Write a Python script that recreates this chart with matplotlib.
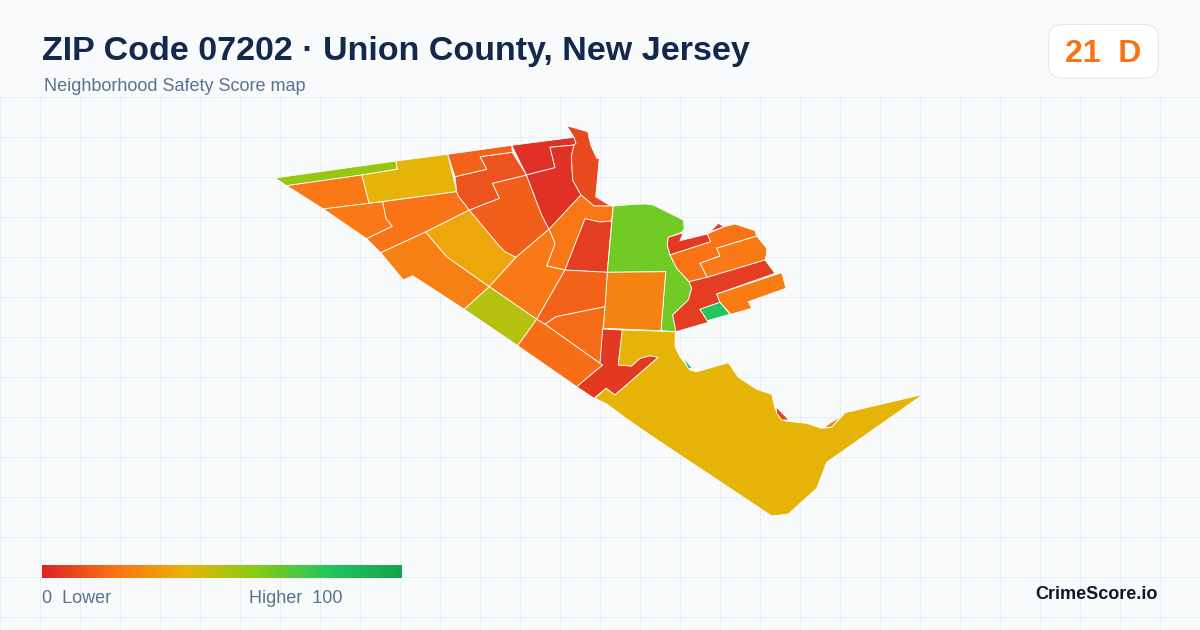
"""ZIP 07202 neighborhood safety score map, tract shapes traced in image pixels."""
import numpy as np
import matplotlib
matplotlib.use("Agg")
import matplotlib.pyplot as plt
from matplotlib.colors import LinearSegmentedColormap
from matplotlib.patches import FancyBboxPatch

BG = "#f8fafc"
GRID = "#e6eff3"
NAVY = "#13294b"
SLATE = "#5b7190"
ORANGE = "#f97316"

# score ramp as shown in the legend
RAMP_STOPS = [0.0, 0.2, 0.4, 0.6, 0.8, 1.0]
RAMP_COLORS = ["#dc2626", "#f97316", "#eab308", "#84cc16", "#22c55e", "#16a34a"]

# tract outlines, (x, y) in image pixels
north_strip = [(275, 178), (396, 161), (397.3, 169.3), (361.7, 175), (286.7, 185.7)]
north_yellow = [(396, 161), (447.7, 154.3), (456.7, 191.7), (369, 203.3), (361.7, 175), (397.3, 169.3)]
west_a = [(286.7, 185.7), (361.7, 175), (369, 203.3), (323.3, 209)]
west_b = [(323.3, 209), (369, 203.3), (382.7, 201.7), (386, 218.3), (392.3, 226.3), (366.7, 238.7)]
west_c = [(382.7, 201.7), (456.7, 191.7), (458.3, 196), (469.3, 210), (425.7, 232), (380.7, 252.7),
          (366.7, 238.7), (392.3, 226.3), (386, 218.3)]
west_d = [(380.7, 252.7), (425.7, 232), (446.7, 256.7), (489.3, 286.7), (464.3, 309.3), (412.7, 275.7),
          (403.3, 280)]
mid_yellow = [(425.7, 232), (469.3, 210), (500, 246.7), (505, 251.7), (516, 257.3), (489.3, 286.7), (446.7, 256.7)]
mid_north = [(469.3, 210), (499.3, 198.3), (492.3, 183.3), (526.4, 175), (541.7, 215), (549, 229.3), (516, 257.3),
             (505, 251.7), (500, 246.7)]
north_e = [(455, 176.7), (486.7, 169.3), (480, 156.7), (512.3, 152.3), (526.4, 175), (492.3, 183.3),
           (499.3, 198.3), (469.3, 210), (458.3, 196), (456.7, 191.7)]
north_f = [(447.7, 154.3), (511.7, 145.3), (512.3, 152.3), (480, 156.7), (486.7, 169.3), (455, 176.7)]
red_top = [(511.7, 145.3), (574, 137.3), (576, 143.3), (574, 145), (550, 147.3), (555, 167.7), (526.4, 175)]
red_lower = [(526.4, 175), (555, 167.7), (550, 147.3), (574, 145), (571.3, 156.7), (572.7, 180), (581, 195),
             (549, 229.3), (541.7, 215)]
north_lobe = [(566.7, 125.7), (587.7, 131.7), (590.7, 145), (596.7, 158.3), (599.3, 158.3), (595.7, 196.7),
              (610.7, 206), (594, 206), (581, 195), (572.7, 180), (571.3, 156.7), (574, 145), (576, 143.3),
              (574, 137.3)]
center_orange = [(581, 195), (594, 206), (613.3, 206), (611.7, 221), (600, 222), (585, 218.7), (565, 270),
                 (546.7, 266), (555, 243.3), (549, 229.3)]
center_red = [(585, 218.7), (600, 222), (611.7, 221), (607.3, 272.3), (565, 270)]
park_green = [(613.3, 206), (635, 204.3), (645, 204), (653.3, 205), (666.7, 211.7), (683.3, 220), (684.3, 228.3),
              (681.7, 232.3), (668.3, 237.3), (667.3, 245), (670, 255), (676.7, 268.3), (689, 281.7),
              (691.7, 288.3), (688.3, 300), (672.7, 315), (676, 331.7), (661, 330.7), (665.7, 271.7),
              (607.3, 272.3)]
square_orange = [(607.3, 272.3), (665.7, 271.7), (661, 330.7), (603.3, 328.3)]
wedge_orange = [(549, 229.3), (555, 243.3), (546.7, 266), (565, 270), (536.7, 319.3), (489.3, 286.7), (516, 257.3)]
lime_block = [(489.3, 286.7), (536.7, 319.3), (517.7, 345.7), (464.3, 309.3)]
south_a = [(565, 270), (607.3, 272.3), (605, 306.7), (556, 316.7), (545, 324.3), (536.7, 319.3)]
south_b = [(545, 324.3), (556, 316.7), (605, 306.7), (600, 363.3)]
south_c = [(536.7, 319.3), (545, 324.3), (600, 363.3), (602.7, 365), (576.7, 386.7), (517.7, 345.7)]
red_y = [(602.7, 329), (622.3, 330), (618.3, 365), (631.7, 366), (636, 362), (640, 358.3), (650, 355.7), (658.3, 357.3),
         (615, 395), (606, 388.3), (594, 398.3), (576.7, 386.7), (602.7, 365), (600, 363.3)]
port_yellow = [(622.3, 330), (675.3, 331.7), (675, 346.7), (680, 356.7), (690, 370), (696.7, 371.7),
               (728.3, 362.7), (738.3, 377.3), (756.7, 389.3), (771.7, 394.3), (775, 408.3), (780, 418.3),
               (785, 421), (806.7, 423.3), (821.7, 428.3), (831.7, 427.3), (845, 412.7), (923.3, 394.3),
               (826.7, 462.3), (816.7, 488.3), (788.3, 514), (771.7, 516), (660, 441.7), (628.3, 420),
               (606.7, 404), (595, 398.3), (606, 388.3), (615, 395), (658.3, 357.3), (650, 355.7), (640, 358.3),
               (636, 362), (631.7, 366), (618.3, 365)]
sliver_green = [(682.7, 356.7), (693.3, 369.3), (688, 368)]
sliver_red = [(776, 406.7), (789, 420), (781.7, 420), (776.7, 413)]
sliver_orange = [(841.7, 416), (831.7, 427), (824, 427.7), (830, 423)]
east_red_top = [(668.3, 237.3), (683.3, 232.7), (680, 240.7), (707.3, 234), (710.7, 241.7), (670, 255), (667.3, 245)]
east_red_small = [(710, 231.7), (718.3, 223.3), (724, 226.7)]
east_a = [(707.3, 234), (724, 226.7), (735, 224), (755, 230.7), (756.7, 236), (716.7, 248.3), (720, 256),
          (700, 263.3), (707.3, 277.3), (689, 281.7), (676.7, 268.3), (670, 255), (710.7, 241.7)]
east_b = [(756.7, 236), (766.7, 248.3), (766.7, 254), (765, 260), (707.3, 277.3), (700, 263.3), (720, 256),
          (716.7, 248.3)]
east_red_large = [(689, 281.7), (707.3, 277.3), (765, 260), (775, 273.3), (716.7, 294), (720, 302.3), (700, 309.3),
                  (708.3, 322.3), (676, 331.7), (672.7, 315), (688.3, 300), (691.7, 288.3)]
east_green = [(700, 309.3), (720, 302.3), (730, 314.3), (707.3, 320.7)]
east_c = [(716.7, 294), (781.7, 272.7), (786, 288.3), (748.3, 301.7), (751.7, 308.3), (730.7, 314.3), (720, 302.3)]

TRACTS = [north_strip, north_yellow, west_a, west_b, west_c, west_d, mid_yellow, mid_north, north_e, north_f,
          red_top, red_lower, north_lobe, center_orange, center_red, park_green, square_orange, wedge_orange,
          lime_block, south_a, south_b, south_c, red_y, port_yellow, sliver_green, sliver_red, sliver_orange,
          east_red_top, east_red_small, east_a, east_b, east_red_large, east_green, east_c]
SCORES = [56, 41, 22, 22, 20.5, 24, 36, 15, 12, 16,
          3, 3, 9, 21, 6, 64, 25, 22,
          50, 16, 18, 19, 5, 41, 80, 8, 26,
          5, 5, 20, 22, 6, 80, 23]

fig = plt.figure(figsize=(12, 6.3), dpi=100, facecolor=BG)
ax = fig.add_axes([0, 0, 1, 1])
ax.axis("off")

# ---- background grid ----
for gx in np.arange(0, 1200, 40):
    ax.plot([gx, gx], [97, 630], color=GRID, lw=0.75, zorder=1)
for gy in np.arange(97, 630, 40):
    ax.plot([0, 1200], [gy, gy], color=GRID, lw=0.75, zorder=1)

# ---- tracts ----
cmap = LinearSegmentedColormap.from_list("score", list(zip(RAMP_STOPS, RAMP_COLORS)))
for shape, score in zip(TRACTS, SCORES):
    xs, ys = zip(*shape)
    ax.fill(xs, ys, facecolor=cmap(score / 100), edgecolor="white", lw=0.6, joinstyle="round", zorder=2)

# ---- header ----
font = "Liberation Sans"
ax.text(42, 60, "ZIP Code 07202 · Union County, New Jersey", family=font, fontsize=24.5,
        fontweight="bold", color=NAVY, va="baseline", zorder=5)
ax.text(44, 91, "Neighborhood Safety Score map", family=font, fontsize=12.95, color=SLATE,
        va="baseline", zorder=5)
ax.add_patch(FancyBboxPatch((1048.5, 24.5), 110, 53.5, boxstyle="round,pad=0,rounding_size=14",
                            facecolor="white", edgecolor="#e2e8f0", lw=0.75, zorder=4))
ax.text(1103, 62, "21  D", family=font, fontsize=23, fontweight="bold", color=ORANGE, ha="center",
        va="baseline", zorder=5)

# ---- legend ----
gradient = np.linspace(0, 1, 360).reshape(1, -1)
ax.imshow(gradient, cmap=cmap, extent=(42, 402, 578, 565), aspect="auto", zorder=4)
ax.text(42, 603, "0  Lower", family=font, fontsize=12.95, color=SLATE, va="baseline", zorder=5)
ax.text(249, 603, "Higher  100", family=font, fontsize=12.95, color=SLATE, va="baseline", zorder=5)
ax.text(1158, 599, "CrimeScore.io", family=font, fontsize=13, fontweight="bold", color="#0f172a",
        ha="right", va="baseline", zorder=5)

ax.set_xlim(0, 1200)
ax.set_ylim(630, 0)
fig.savefig("out.png", dpi=100, facecolor=BG)
plt.close(fig)
